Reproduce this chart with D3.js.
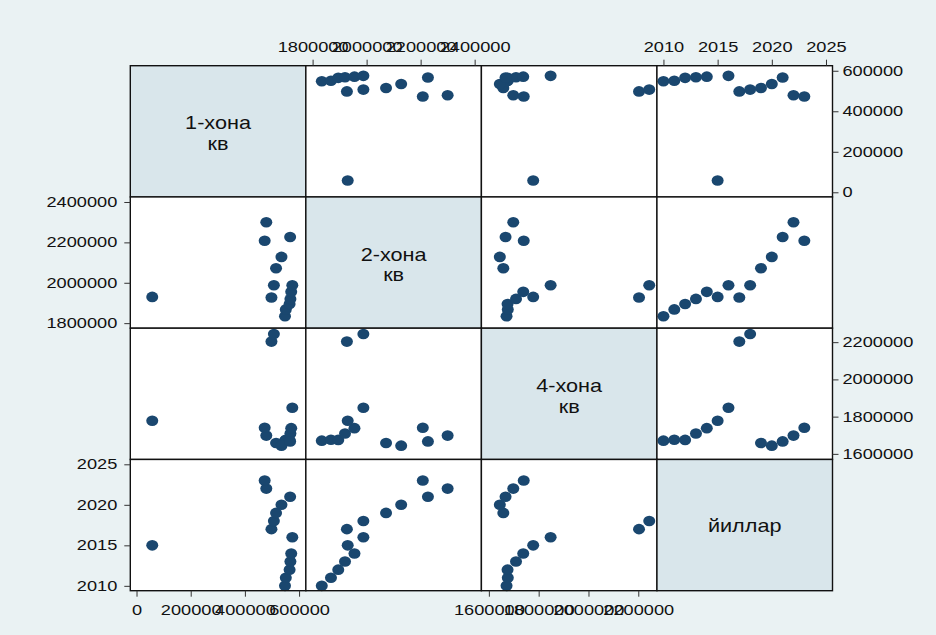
<!DOCTYPE html>
<html>
<head>
<meta charset="utf-8">
<script src="https://cdn.jsdelivr.net/npm/d3@7"></script>
<style>
  body { margin: 0; }
  text { font-family: "Liberation Sans", Arial, sans-serif; fill: #111; }
</style>
</head>
<body>
<script>
var years = [2010, 2011, 2012, 2013, 2014, 2015, 2016, 2017, 2018, 2019, 2020, 2021, 2022, 2023];
var kv1 = [548000, 551000, 565000, 568000, 571000, 58000, 575000, 498000, 507000, 515000, 535000, 567000, 479000, 473000];
var kv2 = [1834000, 1868000, 1895000, 1920000, 1955000, 1930000, 1988000, 1927000, 1988000, 2072000, 2128000, 2227000, 2300000, 2208000];
var kv4 = [1671000, 1676000, 1675000, 1709000, 1738000, 1778000, 1848000, 2203000, 2244000, 1658000, 1644000, 1667000, 1698000, 1740000];

var labels = [["1-хона", "кв"], ["2-хона", "кв"], ["4-хона", "кв"], ["йиллар"]];
var ticks1 = [0, 200000, 400000, 600000];
var ticks2 = [1800000, 2000000, 2200000, 2400000];
var ticks4 = [1600000, 1800000, 2000000, 2200000];
var ticksY = [2010, 2015, 2020, 2025];

var vars = [
  {values: kv1, label: labels[0], domain: [-23000, 625000], ticks: ticks1},
  {values: kv2, label: labels[1], domain: [1775000, 2425000], ticks: ticks2},
  {values: kv4, label: labels[2], domain: [1570000, 2275000], ticks: ticks4},
  {values: years, label: labels[3], domain: [2009.4, 2025.6], ticks: ticksY}
];

var svg = d3.select("body").append("svg")
    .attr("width", 936)
    .attr("height", 635);

svg.append("rect")
    .attr("width", 936)
    .attr("height", 635)
    .attr("fill", "#eaf2f3");

var x0 = 130.3, y0 = 65.7, cw = 175.55, ch = 131.25;
var nav = "#1a476f";

function stretch(sel, k) {
  sel.each(function() {
    var w = this.getComputedTextLength();
    d3.select(this).attr("textLength", w * k).attr("lengthAdjust", "spacingAndGlyphs");
  });
}

vars.forEach(function(vi, i) {
  vars.forEach(function(vj, j) {
    var g = svg.append("g")
        .attr("transform", "translate(" + (x0 + j * cw) + "," + (y0 + i * ch) + ")");

    g.append("rect")
        .attr("width", cw)
        .attr("height", ch)
        .attr("fill", i === j ? "#d9e6eb" : "#fff");

    if (i === j) {
      g.append("text")
          .attr("text-anchor", "middle")
          .attr("font-size", 19)
          .selectAll("tspan")
          .data(vi.label)
          .join("tspan")
          .attr("x", cw / 2)
          .attr("y", function(d, k) {
            return vi.label.length === 1 ? ch / 2 + 7 : ch / 2 - 2 + k * 20.7;
          })
          .text(function(d) { return d; })
          .call(stretch, 1.14);
    } else {
      var xs = d3.scaleLinear().domain(vj.domain).range([0, cw]);
      var ys = d3.scaleLinear().domain(vi.domain).range([ch, 0]);
      g.selectAll("ellipse")
          .data(d3.range(years.length))
          .join("ellipse")
          .attr("cx", function(k) { return xs(vj.values[k]); })
          .attr("cy", function(k) { return ys(vi.values[k]); })
          .attr("rx", 6)
          .attr("ry", 5.3)
          .attr("fill", nav);
    }

    g.append("rect")
        .attr("width", cw)
        .attr("height", ch)
        .attr("fill", "none")
        .attr("stroke", "#111")
        .attr("stroke-width", 1.4);
  });
});

// axes alternate around the matrix
vars.forEach(function(v, k) {
  var xs = d3.scaleLinear().domain(v.domain).range([0, cw]);
  var ys = d3.scaleLinear().domain(v.domain).range([ch, 0]);

  var colAxis = k % 2 ? d3.axisTop(xs) : d3.axisBottom(xs);
  colAxis.tickValues(v.ticks).tickSize(6).tickPadding(8).tickFormat(d3.format("d"));
  var ca = svg.append("g")
      .attr("transform", "translate(" + (x0 + k * cw) + "," + (k % 2 ? y0 : y0 + 4 * ch) + ")")
      .call(colAxis);

  var rowAxis = k % 2 ? d3.axisLeft(ys) : d3.axisRight(ys);
  rowAxis.tickValues(v.ticks).tickSize(6).tickPadding(k % 2 ? 7 : 4).tickFormat(d3.format("d"));
  var ra = svg.append("g")
      .attr("transform", "translate(" + (k % 2 ? x0 : x0 + 4 * cw) + "," + (y0 + k * ch) + ")")
      .call(rowAxis);

  [ca, ra].forEach(function(a) {
    a.select(".domain").remove();
    a.selectAll("line").attr("stroke", "#333");
    a.selectAll("text")
        .attr("font-size", 14)
        .attr("fill", "#111")
        .call(stretch, 1.3);
  });
});
</script>
</body>
</html>
